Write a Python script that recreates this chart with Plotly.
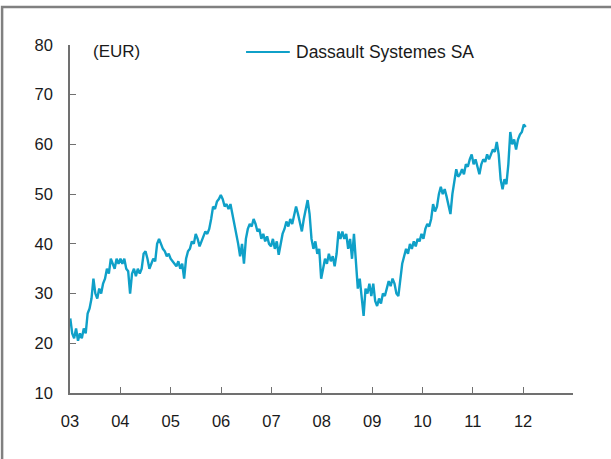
import pandas as pd
import plotly.graph_objects as go

# Dassault Systemes SA share price (EUR) at ~2-week steps
start_date = "2003-01-03"
step = "14D"

price_2003 = [25, 22, 21, 23, 20.5, 22, 21, 23, 22, 26, 27, 29, 33, 30, 29, 31, 30, 32, 33, 35, 34, 37, 36, 35, 37, 36]
price_2004 = [37, 36, 37, 35, 34.5, 30, 34, 35, 33.5, 35, 34, 35, 38, 38.5, 37, 35, 36, 37, 36.5, 40, 41, 40, 39, 38.5, 37.5, 38]
price_2005 = [37, 36.5, 36, 35.5, 36.5, 35, 36, 33, 37, 38.5, 39, 40.5, 40, 42, 41, 39.5, 40.5, 41.5, 42.5, 42, 43, 45, 47.5, 47, 48.5, 49]
price_2006 = [49.8, 49, 47.5, 48, 47, 48, 46, 44.5, 42, 40, 37.5, 40, 36, 41, 43, 44, 43.5, 45, 44, 42.5, 43, 41, 42, 40.5, 41.5, 40]
price_2007 = [39.5, 41, 39, 40.5, 37.8, 40, 42, 43, 44.5, 43.5, 45, 44, 46, 47.5, 46, 44, 42.5, 45, 47, 48.8, 46, 41, 39, 40.5, 38, 39]
price_2008 = [33, 35, 37, 36, 38, 36.5, 37.5, 35.5, 38, 42.5, 41, 42.5, 41, 42, 39, 41, 37, 42, 36, 31, 33, 29, 25.5, 31, 30, 32]
price_2009 = [29.5, 32, 28.5, 27.5, 29, 28, 30, 29.5, 31, 32.5, 31.5, 33, 32, 30, 29.5, 33, 36, 37.5, 39, 38, 40, 39, 40.5, 39.5, 41, 40.5]
price_2010 = [42, 41, 43, 44, 43.5, 45, 48, 46.5, 47.5, 50, 51.5, 50, 51, 49.5, 48, 46, 50, 53, 55, 53.5, 54, 55, 54, 56, 55.5, 57]
price_2011 = [58, 56, 57, 55.5, 54, 56, 57, 56.5, 58, 57, 58, 59, 58.5, 60.5, 58, 53, 51, 53, 52, 56, 62.5, 60, 61, 59, 61, 62]
price_2012 = [62.5, 64, 63.5]

prices = (price_2003 + price_2004 + price_2005 + price_2006 + price_2007
          + price_2008 + price_2009 + price_2010 + price_2011 + price_2012)
dates = pd.date_range(start_date, periods=len(prices), freq=step)

year_ticks = [f"{y}-01-01" for y in range(2003, 2013)]
year_labels = [f"{y % 100:02d}" for y in range(2003, 2013)]

line_color = "#0fa0c8"
axis_color = "#707070"
text_color = "#1a1a1a"
font_name = "Liberation Sans, Arial, sans-serif"

fig = go.Figure()
fig.add_trace(go.Scatter(
    x=dates, y=prices, mode="lines",
    line=dict(color=line_color, width=2.4),
    name="Dassault Systemes SA",
    showlegend=False,
))

fig.update_xaxes(
    range=["2003-01-01", "2012-12-28"],
    tickvals=year_ticks, ticktext=year_labels,
    ticks="inside", ticklen=6, tickcolor=axis_color,
    showline=True, linecolor=axis_color, linewidth=1.5,
    showgrid=False, zeroline=False,
    ticklabelstandoff=12,
    tickfont=dict(size=16.5, color=text_color),
)
fig.update_yaxes(
    range=[10, 80], dtick=10,
    ticks="inside", ticklen=6, tickcolor=axis_color,
    showline=True, linecolor=axis_color, linewidth=1.5,
    showgrid=False, zeroline=False,
    ticklabelstandoff=12,
    tickfont=dict(size=16.5, color=text_color),
)

# frame round the whole chart
fig.add_shape(type="rect", xref="paper", yref="paper",
              x0=-0.135, y0=-0.4, x1=1.2, y1=1.109,
              line=dict(color="#808080", width=2.5))

# hand-made legend
fig.add_shape(type="line", xref="paper", yref="paper",
              x0=0.35, y0=0.98, x1=0.437, y1=0.98,
              line=dict(color=line_color, width=2))
fig.add_annotation(xref="paper", yref="paper", x=0.445, y=0.98,
                   text="Dassault Systemes SA", showarrow=False,
                   xanchor="left", yanchor="middle",
                   font=dict(size=17.5, color=text_color))
fig.add_annotation(xref="paper", yref="paper", x=0.042, y=0.98,
                   text="(EUR)", showarrow=False,
                   xanchor="left", yanchor="middle",
                   font=dict(size=17, color=text_color))

fig.update_layout(
    width=611, height=459,
    margin=dict(l=70, r=38, t=45, b=66),
    paper_bgcolor="white", plot_bgcolor="white",
    font=dict(family=font_name, color=text_color),
)

# drop the browser's default body margin so the figure sits at the page corner
fig.write_html("out.html", config={"displayModeBar": False},
               post_script="document.body.style.margin='0';")
